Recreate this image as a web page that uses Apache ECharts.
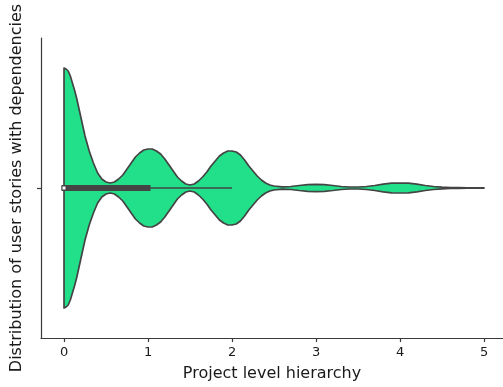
<!DOCTYPE html>
<html><head><meta charset="utf-8">
<script src="https://cdn.jsdelivr.net/npm/echarts@6/dist/echarts.min.js"></script>
<style>html,body{margin:0;padding:0;background:#fff}#c{width:503px;height:387px}</style>
</head><body><div id="c"></div>
<script>
// Positions along the hierarchy axis where the violin outline was read
const levelGrid = [0,0.025,0.05,0.075,0.1,0.125,0.15,0.2,0.25,0.3,0.35,0.4,0.45,0.5,0.55,0.6,0.65,0.7,0.75,0.8,0.85,0.9,0.95,
  1.0,1.05,1.1,1.15,1.2,1.25,1.3,1.35,1.4,1.45,1.5,1.55,1.6,1.65,1.7,1.75,1.8,1.85,1.9,1.95,
  2.0,2.05,2.1,2.15,2.2,2.25,2.3,2.35,2.4,2.45,2.5,2.6,2.7,2.8,2.9,3.0,3.1,3.2,3.3,3.4,3.5,
  3.6,3.7,3.8,3.9,4.0,4.1,4.2,4.3,4.4,4.5,4.6,4.7,4.8,4.9,5.0];
// Relative density (violin half-width)
const density = [120,119,117,112,105,98,90,71,52,37,25,15,9,6,5,6,9,13,19,25,31,35,38,
  39,39,37,34,29,23,17,11,7,4,3,4,7,11,16,22,27,32,35,37,
  37,36,33,28,22,17,12,8,5,3,2,1.2,1.5,2.5,3.3,3.6,3.3,2.5,1.5,1,1,
  1.5,2.5,3.8,4.8,5,4.8,3.8,2.5,1.5,0.8,0.5,0.3,0.2,0.1,0.1];
const xTicks = [0,1,2,3,4,5];
const yTicks = [0];
const boxQ1 = [0];
const boxQ3 = [1];
const boxMedian = [0];
const whiskerLow = [0];
const whiskerHigh = [2];
const xName = 'Project level hierarchy';
const yName = 'Distribution of user stories with dependencies';

const chart = echarts.init(document.getElementById('c'));
const maxD = Math.max(...density);
const halfWidth = 0.4;
const txt = '#1a1a1a', axisCol = '#3a3a3a';

chart.setOption({
  animation: false,
  grid: {left: 41, right: 0, top: 38, bottom: 47},
  xAxis: {
    type: 'value', min: -0.274, max: 5.226,
    name: xName, nameLocation: 'middle', nameGap: 28,
    nameTextStyle: {fontFamily: 'DejaVu Sans', fontSize: 16, color: txt},
    axisLine: {show: true, onZero: false, lineStyle: {color: axisCol, width: 1.2}},
    axisTick: {show: true, length: 4, customValues: xTicks, lineStyle: {color: axisCol, width: 1.2}},
    axisLabel: {customValues: xTicks, margin: 8, fontFamily: 'DejaVu Sans', fontSize: 13, color: txt},
    splitLine: {show: false}
  },
  yAxis: {
    type: 'value', min: -0.5, max: 0.5,
    name: yName, nameLocation: 'middle', nameGap: 16, nameRotate: 90,
    nameTextStyle: {fontFamily: 'DejaVu Sans', fontSize: 16, color: txt},
    axisLine: {show: true, onZero: false, lineStyle: {color: axisCol, width: 1.2}},
    axisTick: {show: true, length: 4, customValues: yTicks, lineStyle: {color: axisCol, width: 1.2}},
    axisLabel: {show: false},
    splitLine: {show: false}
  },
  series: [{
    type: 'custom',
    data: [[0, 0]],
    clip: false,
    renderItem: function (params, api) {
      const top = [], bot = [];
      for (let i = 0; i < levelGrid.length; i++) {
        const w = density[i] / maxD * halfWidth;
        top.push(api.coord([levelGrid[i], w]));
        bot.push(api.coord([levelGrid[i], -w]));
      }
      const pts = top.concat(bot.reverse());
      const a = api.coord([boxQ1[0], 0]), b = api.coord([boxQ3[0], 0]);
      const wl = api.coord([whiskerLow[0], 0]), wh = api.coord([whiskerHigh[0], 0]);
      const m = api.coord([boxMedian[0], 0]);
      return {type: 'group', children: [
        {type: 'polygon', shape: {points: pts}, style: {fill: '#22e08a', stroke: '#444444', lineWidth: 1.7, lineJoin: 'round'}},
        {type: 'line', shape: {x1: wl[0], y1: wl[1], x2: wh[0], y2: wh[1]}, style: {stroke: '#444444', lineWidth: 1.7}},
        {type: 'rect', shape: {x: a[0] - 2.5, y: a[1] - 3, width: b[0] - a[0] + 5, height: 6}, style: {fill: '#444444'}},
        {type: 'rect', shape: {x: m[0] - 2, y: m[1] - 2, width: 4, height: 4}, style: {fill: '#ffffff', stroke: '#444444', lineWidth: 1}}
      ]};
    }
  }]
});
</script></body></html>
